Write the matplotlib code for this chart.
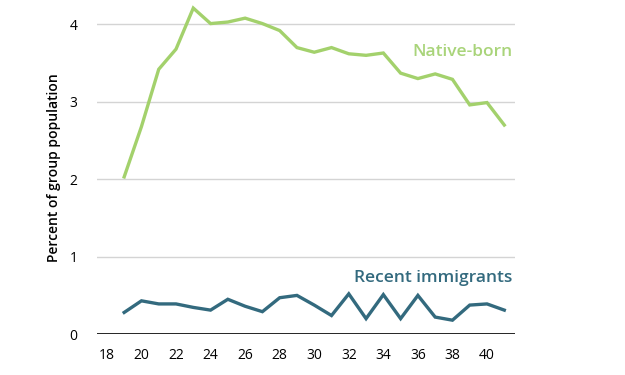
import matplotlib
matplotlib.use("Agg")
import matplotlib.pyplot as plt

plt.rcParams['font.family'] = ['Open Sans', 'DejaVu Sans']

ages = list(range(19, 42))
native_born = [2.03, 2.68, 3.42, 3.68, 4.21, 4.01, 4.03, 4.08, 4.01, 3.92, 3.70, 3.64,
               3.70, 3.62, 3.60, 3.63, 3.37, 3.30, 3.36, 3.29, 2.96, 2.99, 2.70]
recent_immigrants = [0.28, 0.43, 0.39, 0.39, 0.345, 0.31, 0.45, 0.36, 0.29, 0.47, 0.50, 0.375,
                     0.24, 0.52, 0.20, 0.51, 0.20, 0.50, 0.22, 0.18, 0.375, 0.39, 0.31]
x_ticks = list(range(18, 42, 2))
y_ticks = [0, 1, 2, 3, 4]

green = "#a3d16c"
teal = "#336a7e"

fig = plt.figure(figsize=(6.25, 3.75), dpi=100)
ax = fig.add_axes([0.155, 0.109, 0.669, 0.888])

ax.plot(ages, native_born, color=green, lw=2.4, solid_joinstyle="miter")
ax.plot(ages, recent_immigrants, color=teal, lw=2.4, solid_joinstyle="miter")

ax.set_xlim(17.42, 41.62)
ax.set_ylim(0, 4.3)
ax.set_xticks(x_ticks)
ax.set_yticks(y_ticks)

for y in y_ticks[1:]:
    ax.axhline(y, color="#d4d4d4", lw=1, zorder=0)
ax.axhline(0, color="black", lw=1.2, zorder=1)

for s in ax.spines.values():
    s.set_visible(False)
ax.tick_params(axis="both", length=0, labelsize=10, colors="black")
ax.tick_params(axis="y", pad=14)
ax.tick_params(axis="x", pad=10)

ax.set_ylabel("Percent of group population", fontsize=10, fontweight="semibold", labelpad=6)

ax.text(41.45, 3.64, "Native-born", color="#a9d47a", fontsize=12.5, fontweight="semibold",
        ha="right", va="center")
ax.text(41.45, 0.72, "Recent immigrants", color=teal, fontsize=12.5, fontweight="semibold",
        ha="right", va="center")

fig.savefig("out.png", dpi=100)
